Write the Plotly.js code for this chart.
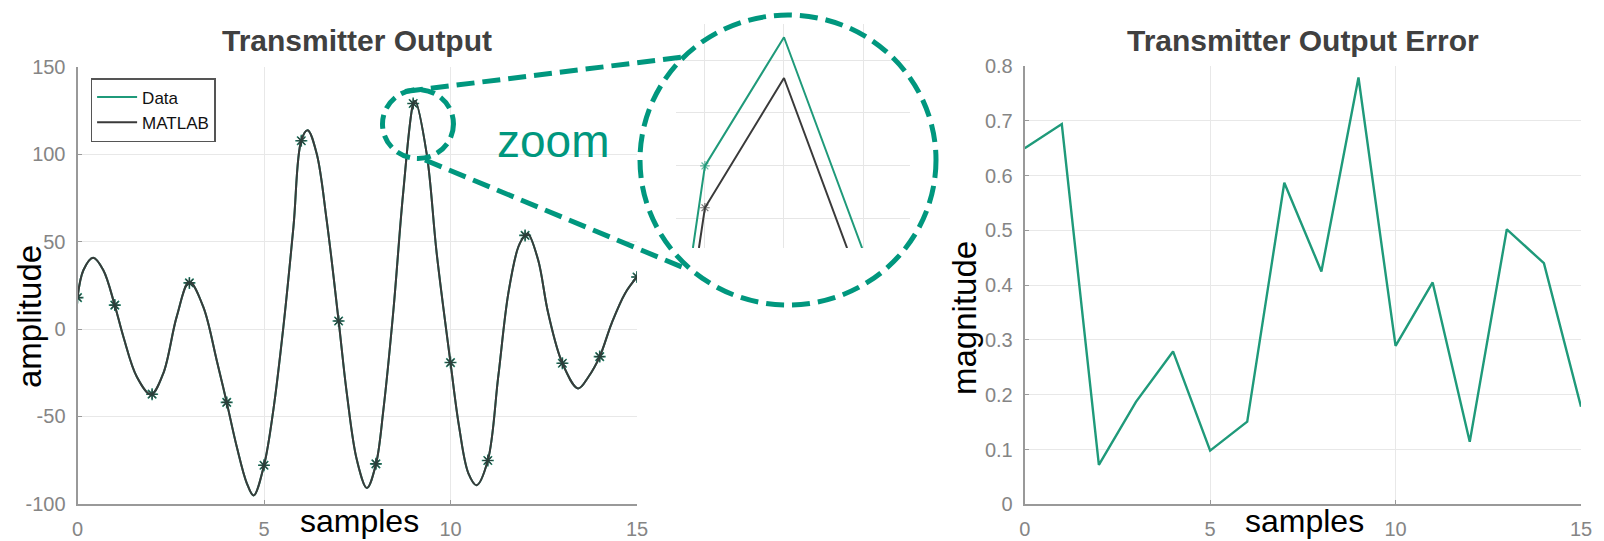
<!DOCTYPE html>
<html>
<head>
<meta charset="utf-8">
<script src="https://cdn.plot.ly/plotly-3.0.1.min.js"></script>
<style>
html,body{margin:0;padding:0;background:#ffffff;}
#chart{width:1604px;height:541px;}
</style>
</head>
<body>
<div id="chart"></div>
<script>
// ---------- data ----------
const sampleX = [0,1,2,3,4,5,6,7,8,9,10,11,12,13,14,15];
const sampleAmplitude = [18,13.7,-37.3,26.4,-42,-78,107.8,4.6,-77.2,129.1,-19.2,-75.3,53.6,-19.6,-15.8,29.8];

const curveX = [0,0.16,0.42,0.69,1.0,1.23,1.59,1.97,2.3,2.66,3.0,3.37,3.73,4.0,4.27,4.54,4.72,5.0,5.25,5.52,5.79,6.0,6.17,6.41,6.68,7.0,7.22,7.49,7.76,8.0,8.2,8.47,8.73,9.0,9.05,9.36,9.63,10.0,10.23,10.48,10.7,11.0,11.28,11.55,11.82,12.0,12.08,12.35,12.62,13.0,13.42,13.7,14.0,14.32,14.68,15.0];
const curveY = [18,33.8,40.8,33.8,13.5,-4.4,-27.3,-37.5,-25.4,7.1,27,12.8,-17.7,-42,-67.4,-88.3,-95.3,-78,-46.4,1.3,58.6,108,113.8,100.6,62.4,4.8,-36.8,-75,-91,-77.5,-46.4,10.9,77.7,129,130.6,100.6,43.3,-19.3,-55.9,-82.6,-89.4,-75.3,-27.3,20.4,47.1,53.6,54.5,39.5,9,-19.6,-34,-27.3,-15.8,3.3,20.4,29.8];

const errorMagnitude = [0.650,0.694,0.072,0.187,0.279,0.098,0.151,0.587,0.425,0.779,0.289,0.405,0.114,0.502,0.440,0.178];

// zoomed-in peak (inset)
const zoomDataX = [8.9924,9,9.05,9.0994];
const zoomDataY = [127.45,129,131.43,127.45];
const zoomMatlabX = [8.9962,9,9.05,9.0899];
const zoomMatlabY = [127.45,128.21,130.66,127.45];

const xTickVals = [0,5,10,15];
const xTickText = ['0','5','10','15'];
const ampTickVals = [-100,-50,0,50,100,150];
const ampTickText = ['-100','-50','0','50','100','150'];
const magTickVals = [0,0.1,0.2,0.3,0.4,0.5,0.6,0.7,0.8];
const magTickText = ['0','0.1','0.2','0.3','0.4','0.5','0.6','0.7','0.8'];

const names = {data:'Data', matlab:'MATLAB'};
const titles = {left:'Transmitter Output', right:'Transmitter Output Error', x:'samples', yLeft:'amplitude', yRight:'magnitude', zoom:'zoom'};

// ---------- layout helpers ----------
const W = 1604, H = 541;
const px = x => x / W;
const py = y => 1 - y / H;

const TEAL = '#1f9a7a';
const ACCENT = '#00977e';
const DARK = '#3a3a3a';
const GRID = '#e8e8e8';
const AXIS = '#999999';
const TICKFONT = {family:'Liberation Sans, Arial, sans-serif', size:20, color:'#858585'};

function axisBase(extra){
  return Object.assign({
    showgrid:true, gridcolor:GRID, gridwidth:1,
    zeroline:false, showline:true, linecolor:AXIS, linewidth:2,
    ticks:'inside', ticklen:4, tickcolor:AXIS, tickwidth:1,
    tickfont:TICKFONT, ticklabelstandoff:6, mirror:false, fixedrange:true
  }, extra);
}

const traces = [
  {x:curveX, y:curveY, xaxis:'x', yaxis:'y', type:'scatter', mode:'lines', name:names.data,
   line:{color:TEAL, width:2, shape:'spline', smoothing:1}, legendgroup:'d'},
  {x:sampleX, y:sampleAmplitude, xaxis:'x', yaxis:'y', type:'scatter', mode:'markers', showlegend:false,
   marker:{symbol:'asterisk-open', size:10, color:'#1e7a62', line:{width:1.6, color:'#1e7a62'}}, legendgroup:'d'},
  {x:curveX, y:curveY, xaxis:'x', yaxis:'y', type:'scatter', mode:'lines', name:names.matlab,
   line:{color:DARK, width:2, shape:'spline', smoothing:1}, legendgroup:'m'},
  {x:sampleX, y:sampleAmplitude, xaxis:'x', yaxis:'y', type:'scatter', mode:'markers', showlegend:false,
   marker:{symbol:'asterisk-open', size:8, color:'#2c3e3a', line:{width:1.1, color:'#2c3e3a'}}, legendgroup:'m'},
  {x:sampleX, y:errorMagnitude, xaxis:'x2', yaxis:'y2', type:'scatter', mode:'lines', showlegend:false,
   line:{color:TEAL, width:2.4}},
  {x:zoomDataX, y:zoomDataY, xaxis:'x3', yaxis:'y3', type:'scatter', mode:'lines+markers', showlegend:false,
   line:{color:TEAL, width:2}, marker:{symbol:'asterisk-open', size:[0,8,0,0], color:TEAL, line:{width:1.2, color:TEAL}}},
  {x:zoomMatlabX, y:zoomMatlabY, xaxis:'x3', yaxis:'y3', type:'scatter', mode:'lines+markers', showlegend:false,
   line:{color:DARK, width:2}, marker:{symbol:'asterisk-open', size:[0,8,0,0], color:DARK, line:{width:1.2, color:DARK}}}
];

const dash = '18px,8px';
const layout = {
  width:W, height:H,
  margin:{l:0, r:0, t:0, b:0},
  paper_bgcolor:'#ffffff', plot_bgcolor:'rgba(0,0,0,0)',
  font:{family:'Liberation Sans, Arial, sans-serif', color:'#222'},
  showlegend:true,
  legend:{x:px(90.6), y:py(78), xanchor:'left', yanchor:'top', bgcolor:'#ffffff',
          bordercolor:'#555555', borderwidth:1.5, font:{size:17, color:'#111'},
          tracegroupgap:0, itemwidth:40, traceorder:'normal'},
  xaxis:axisBase({domain:[px(77.5), px(637)], range:[0,15], tickvals:xTickVals, ticktext:xTickText, anchor:'y'}),
  yaxis:axisBase({domain:[py(503.7), py(67)], range:[-100,150], tickvals:ampTickVals, ticktext:ampTickText, anchor:'x'}),
  xaxis2:axisBase({domain:[px(1024.7), px(1581)], range:[0,15], tickvals:xTickVals, ticktext:xTickText, anchor:'y2'}),
  yaxis2:axisBase({domain:[py(504.3), py(66)], range:[0,0.8], tickvals:magTickVals, ticktext:magTickText, anchor:'x2'}),
  xaxis3:{domain:[px(676), px(910)], range:[8.9817,9.1297], tick0:9, dtick:0.05, anchor:'y3',
          showgrid:true, gridcolor:'#e6e6e6', zeroline:false, showline:false, ticks:'', showticklabels:false, fixedrange:true},
  yaxis3:{domain:[py(248), py(24)], range:[127.45,131.68], tick0:128, dtick:1, anchor:'x3',
          showgrid:true, gridcolor:'#e6e6e6', zeroline:false, showline:false, ticks:'', showticklabels:false, fixedrange:true},
  shapes:[
    {type:'circle', xref:'paper', yref:'paper', x0:px(640), x1:px(936), y0:py(305), y1:py(15),
     line:{color:ACCENT, width:5, dash:dash}, layer:'above'},
    {type:'circle', xref:'paper', yref:'paper', x0:px(382.5), x1:px(453.5), y0:py(158.5), y1:py(89.5),
     line:{color:ACCENT, width:5, dash:'14px,7px'}, layer:'above'},
    {type:'line', xref:'paper', yref:'paper', x0:px(405), y0:py(91.5), x1:px(683), y1:py(57),
     line:{color:ACCENT, width:5, dash:dash}, layer:'above'},
    {type:'line', xref:'paper', yref:'paper', x0:px(425), y0:py(160), x1:px(682), y1:py(267),
     line:{color:ACCENT, width:5, dash:dash}, layer:'above'}
  ],
  annotations:[
    {text:'<b>'+titles.left+'</b>', xref:'paper', yref:'paper', x:px(357), y:py(40), xanchor:'center', yanchor:'middle',
     showarrow:false, font:{size:30, color:'#404040'}},
    {text:'<b>'+titles.right+'</b>', xref:'paper', yref:'paper', x:px(1303), y:py(40), xanchor:'center', yanchor:'middle',
     showarrow:false, font:{size:30, color:'#404040'}},
    {text:titles.x, xref:'paper', yref:'paper', x:px(359), y:py(521), xanchor:'center', yanchor:'middle',
     showarrow:false, font:{size:32, color:'#000'}},
    {text:titles.x, xref:'paper', yref:'paper', x:px(1304), y:py(521), xanchor:'center', yanchor:'middle',
     showarrow:false, font:{size:32, color:'#000'}},
    {text:titles.yLeft, xref:'paper', yref:'paper', x:px(29), y:py(317), xanchor:'center', yanchor:'middle',
     textangle:-90, showarrow:false, font:{size:33, color:'#000'}},
    {text:titles.yRight, xref:'paper', yref:'paper', x:px(964), y:py(318), xanchor:'center', yanchor:'middle',
     textangle:-90, showarrow:false, font:{size:33, color:'#000'}},
    {text:titles.zoom, xref:'paper', yref:'paper', x:px(552.5), y:py(141), xanchor:'center', yanchor:'middle',
     showarrow:false, font:{size:46, color:ACCENT}}
  ]
};

Plotly.newPlot('chart', traces, layout, {staticPlot:true, displayModeBar:false});
</script>
</body>
</html>
